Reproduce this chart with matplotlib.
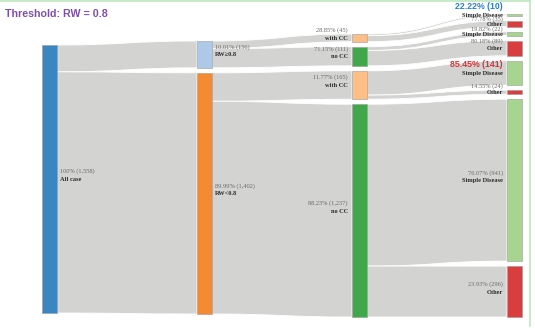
import matplotlib
matplotlib.use("Agg")
import matplotlib.pyplot as plt
from matplotlib.path import Path
from matplotlib.patches import PathPatch, Rectangle

# ---- data ----
title = "Threshold: RW = 0.8"
root_label = "All case"
root_count = 1558

level1_labels = ["RW\u22650.8", "RW<0.8"]
level1_counts = [156, 1402]

level2_labels = ["with CC", "no CC", "with CC", "no CC"]
level2_counts = [45, 111, 165, 1237]
level2_parent = [0, 0, 1, 1]

level3_labels = ["Simple Disease", "Other"] * 4
level3_counts = [10, 35, 22, 89, 141, 24, 941, 296]
level3_parent = [0, 0, 1, 1, 2, 2, 3, 3]

# ---- style / layout ----
W, H = 535, 328
scale = 268 / root_count          # px per case
node_w = 15
col_x = [42, 197, 352, 507]
col_top = [45, 41, 34, 14]
gap = 5
link_color = "#d3d4d1"
root_color = "#3a86c3"
level1_colors = ["#aec8e8", "#f48b33"]
level2_colors = ["#fdbf86", "#40a84b"] * 2
level3_colors = ["#a7d590", "#d93e3f"] * 4
highlight = {0: "#2f7fc6", 4: "#d9343a"}
# vertical offset of the percentage line above the node name (tight where
# the small outcome nodes crowd together)
level3_pct_offset = [8, 4.2, 5, 7.5, 8, 6.5, 7.5, 7.5]

fig = plt.figure(figsize=(W / 100, H / 100), dpi=100)
ax = fig.add_axes([0, 0, 1, 1])
ax.set_xlim(0, W)
ax.set_ylim(H, 0)
ax.axis("off")


def stack(counts, top):
    ys, y = [], top
    for c in counts:
        h = c * scale
        ys.append((y, y + h))
        y += h + gap
    return ys


def fmt_pct(p):
    s = f"{p:.2f}"
    if s.endswith(".00"):
        s = s[:-3]
    return s + "%"


levels_counts = [[root_count], level1_counts, level2_counts, level3_counts]
levels_parent = [None, [0, 0], level2_parent, level3_parent]
levels_labels = [[root_label], level1_labels, level2_labels, level3_labels]
levels_colors = [[root_color], level1_colors, level2_colors, level3_colors]

pos = [stack(c, t) for c, t in zip(levels_counts, col_top)]


def link(x0, s0, s1, x1, t0, t1):
    xm = (x0 + x1) / 2
    verts = [(x0, s0), (xm, s0), (xm, t0), (x1, t0),
             (x1, t1), (xm, t1), (xm, s1), (x0, s1), (x0, s0)]
    codes = [Path.MOVETO, Path.CURVE4, Path.CURVE4, Path.CURVE4,
             Path.LINETO, Path.CURVE4, Path.CURVE4, Path.CURVE4, Path.CLOSEPOLY]
    ax.add_patch(PathPatch(Path(verts, codes), facecolor=link_color,
                           edgecolor="white", lw=0.6, zorder=1))


# links
for lvl in range(1, 4):
    offsets = [p[0] for p in pos[lvl - 1]]
    xs = col_x[lvl - 1] + node_w
    xt = col_x[lvl]
    for i, c in enumerate(levels_counts[lvl]):
        par = levels_parent[lvl][i]
        s0 = offsets[par]
        s1 = s0 + c * scale
        offsets[par] = s1
        t0, t1 = pos[lvl][i]
        link(xs, s0, s1, xt, t0, t1)

# nodes and labels
for lvl in range(4):
    counts = levels_counts[lvl]
    for i, c in enumerate(counts):
        y0, y1 = pos[lvl][i]
        col = levels_colors[lvl][i]
        ax.add_patch(Rectangle((col_x[lvl], y0), node_w, y1 - y0,
                               facecolor=col, edgecolor="#9a9a9a",
                               lw=0.4, zorder=3))
        if lvl == 0:
            pct = 100.0
        else:
            par = levels_parent[lvl][i]
            pct = 100 * c / levels_counts[lvl - 1][par]
        pct_txt = f"{fmt_pct(pct)} ({c:,})"
        cy = (y0 + y1) / 2
        if lvl < 2:
            tx, ha = col_x[lvl] + node_w + 3, "left"
        else:
            tx, ha = col_x[lvl] - 4, "right"
        off = level3_pct_offset[i] if lvl == 3 else 7.5
        if lvl == 3 and i in highlight:
            ax.text(tx, cy - off, pct_txt, ha=ha, va="center",
                    fontsize=6.3, fontweight="bold",
                    family="Liberation Sans", color=highlight[i], zorder=4)
        else:
            ax.text(tx, cy - off, pct_txt, ha=ha, va="center",
                    fontsize=4.6, family="Liberation Serif",
                    color="#6a6a6a", zorder=4)
        ax.text(tx, cy + 0.5, levels_labels[lvl][i], ha=ha, va="center",
                fontsize=4.6, fontweight="bold", family="Liberation Serif",
                color="#2a2a2a", zorder=4)

ax.text(5, 14, title, ha="left", va="center", fontsize=7.7,
        fontweight="bold", family="Liberation Sans", color="#7e4fa8")

# frame edges
ax.plot([0, 530], [0.8, 0.8], color="#bfe6bf", lw=1.2, zorder=5)
ax.plot([530, 530], [0.8, 326], color="#bfe6bf", lw=1.2, zorder=5)

fig.savefig("out.png", dpi=100)
